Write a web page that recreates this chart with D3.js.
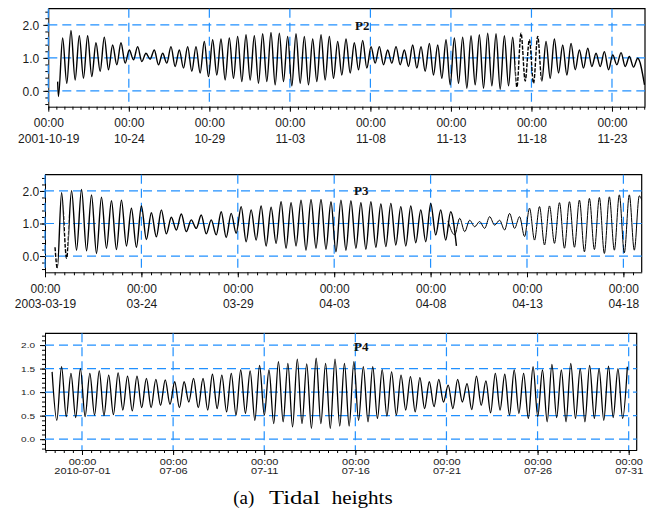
<!DOCTYPE html>
<html><head><meta charset="utf-8">
<script src="https://cdn.jsdelivr.net/npm/d3@7"></script>
<style>body{margin:0;background:#fff}svg{display:block}</style>
</head><body><svg id="c" width="656" height="519"></svg>
<script>
// ---------- DATA ----------
// half of the semi-diurnal (M2, 12.42 h) period, in days: spacing between successive high/low waters
const M2_HALF = 0.25875;

// P2 : 2001-10-19 .. 2001-11-25
const p2Base = "2001-10-19";
const p2XLabels = ["2001-10-19","10-24","10-29","11-03","11-08","11-13","11-18","11-23"];
const p2YTicks = [0, 1, 2];
const p2Lead = [[0.58,0.28],[0.63,-0.17]];          // [day, height]
const p2FirstHigh = 0.89;
const p2High = [1.60,1.83,1.67,1.67,1.46,1.63,1.39,1.46,1.24,1.34,1.14,1.24,1.14,1.34,1.24,1.34,1.34,1.50,1.55,1.57,1.60,1.65,1.70,1.67,1.73,1.77,1.75,1.65,1.73,1.65,1.57,1.70,
                1.65,1.50,1.57,1.46,1.53,1.34,1.34,1.24,1.34,1.24,1.39,1.34,1.44,1.39,1.55,1.60,1.63,1.67,1.70,1.75,1.73,1.67,1.63,1.75,1.55,1.65,1.50,1.57,1.39,1.44,1.24,1.29,1.14,1.19,1.09,1.16,1.04,0.99];
const p2Low = [0.23,0.33,0.38,0.43,0.59,0.64,0.79,0.84,0.94,0.89,0.96,0.79,0.84,0.74,0.69,0.59,0.54,0.43,0.48,0.33,0.38,0.28,0.33,0.23,0.28,0.18,0.28,0.15,0.23,0.18,0.28,
               0.33,0.38,0.48,0.54,0.64,0.69,0.84,0.79,0.84,0.79,0.74,0.69,0.59,0.48,0.38,0.18,0.23,0.08,0.18,0.08,0.15,0.05,0.15,0.11,0.30,0.23,0.30,0.38,0.54,0.48,0.64,0.69,0.74,0.74,0.64,0.79,0.74,0.72];
const p2Tail = [[37.02,0.18]];
const p2Dashed = [[29.0,30.6]];

// P3 : 2003-03-19 .. 2003-04-18
const p3Base = "2003-03-19";
const p3XLabels = ["2003-03-19","03-24","03-29","04-03","04-08","04-13","04-18"];
const p3YTicks = [0, 1, 2];
const p3aLead = [[0.52,0.27],[0.64,-0.38]];
const p3aFirstHigh = 0.86;
const p3aHigh = [1.95,2.01,2.05,1.88,1.81,1.70,1.72,1.47,1.54,1.33,1.42,1.19,1.29,1.11,1.26,1.11,1.36,1.31,1.52,1.42,1.54,1.50,1.67,1.64,1.72,1.74,1.74,
                 1.67,1.72,1.70,1.64,1.67,1.60,1.62,1.52,1.54,1.42,1.62,1.42,1.36];
const p3aLow = [-0.07,0.18,0.16,0.08,0.24,0.20,0.31,0.27,0.51,0.59,0.68,0.80,0.75,0.85,0.68,0.65,0.57,0.70,0.44,0.49,0.31,0.39,0.24,0.31,0.18,0.24,
                0.21,0.13,0.18,0.24,0.21,0.27,0.29,0.34,0.31,0.41,0.44,0.65,0.49];
const p3aTail = [[21.34,0.31]];
const p3aDashed = [[0.45,0.66],[0.98,1.22]];
const p3bLead = [[20.9,1.08],[21.25,0.65]];
const p3bFirstHigh = 21.51;
const p3bHigh = [1.16,1.10,1.06,1.21,1.10,1.31,1.21,1.47,1.52,1.54,1.64,1.67,1.72,1.77,1.80,1.82,1.88,1.88,1.85];
const p3bLow = [0.75,0.90,0.85,0.95,0.80,0.85,0.60,0.49,0.34,0.39,0.24,0.27,0.13,0.20,0.08,0.18,0.10,0.18];
const p3bTail = [[30.97,1.70]];

// P4 : 2010-06-29 .. 2010-07-31 (days counted from 2010-07-01)
const p4Base = "2010-07-01";
const p4XLabels = ["2010-07-01","07-06","07-11","07-16","07-21","07-26","07-31"];
const p4YTicks = [0, 0.5, 1, 1.5, 2];
const p4Lead = [];
const p4FirstHigh = -1.64;
const p4High = [1.43,1.54,1.40,1.50,1.40,1.45,1.36,1.41,1.34,1.34,1.29,1.27,1.26,1.22,1.22,1.29,1.29,1.38,1.36,1.40,1.47,1.45,1.57,1.47,1.65,1.61,1.70,1.60,1.72,
                1.61,1.70,1.61,1.65,1.54,1.54,1.48,1.43,1.36,1.33,1.31,1.22,1.27,1.15,1.27,1.18,1.34,1.24,1.40,1.38,1.47,1.40,1.54,1.47,1.59,1.47,1.61,1.50,1.57,1.50,1.55,1.50,1.54];
const p4Low = [0.40,0.48,0.46,0.48,0.51,0.50,0.52,0.62,0.60,0.67,0.67,0.72,0.74,0.67,0.79,0.67,0.62,0.65,0.58,0.51,0.55,0.40,0.51,0.33,0.37,0.26,0.33,0.23,
               0.33,0.23,0.28,0.28,0.40,0.37,0.44,0.49,0.51,0.62,0.58,0.65,0.69,0.79,0.65,0.79,0.63,0.72,0.56,0.62,0.51,0.55,0.44,0.48,0.37,0.46,0.37,0.44,0.37,0.44,0.40,0.46,0.44];
const p4Tail = [];

const titleWords = ["(a)", "Tidal", "heights"];

// ---------- DRAWING ----------
const DAY = 864e5;
const GRID = "#2090ff";
const SANS = "'Liberation Sans', Arial, sans-serif";
const SERIF = "'Liberation Serif', 'Times New Roman', serif";
const svg = d3.select("#c");
const defs = svg.append("defs");
const parseBase = s => new Date(s + "T00:00:00Z");
const toDate = (base, d) => new Date(base.getTime() + d * DAY);

function buildSeries(base, lead, firstHigh, highs, lows, tail) {
  const pts = lead.map(([d, v]) => ({t: toDate(base, d), v}));
  highs.forEach((h, i) => {
    pts.push({t: toDate(base, firstHigh + 2 * i * M2_HALF), v: h});
    if (i < lows.length) pts.push({t: toDate(base, firstHigh + (2 * i + 1) * M2_HALF), v: lows[i]});
  });
  tail.forEach(([d, v]) => pts.push({t: toDate(base, d), v}));
  return pts;
}

function drawPanel(p) {
  const {l, t, r, b} = p.box;
  const base = parseBase(p.base);
  const x = d3.scaleUtc().domain(p.xDom.map(d => toDate(base, d))).range([l, r]);
  const y = d3.scaleLinear().domain(p.yDom).range([b, t]);
  const g = svg.append("g");

  defs.append("clipPath").attr("id", p.id + "plot")
    .append("rect").attr("x", l).attr("y", t).attr("width", r - l).attr("height", b - t);

  // axes: minor ticks
  g.append("g").attr("transform", `translate(0,${b})`)
    .call(d3.axisBottom(x).tickValues(d3.utcHour.every(12).range(x.domain()[0], toDate(x.domain()[1], 0.001)))
      .tickSize(p.minorTick).tickFormat(""))
    .call(a => a.select(".domain").remove());
  g.append("g").attr("transform", `translate(${l},0)`)
    .call(d3.axisLeft(y).tickValues(y.ticks(p.yMinorCount)).tickSize(p.minorTick).tickFormat(""))
    .call(a => a.select(".domain").remove());

  // axes: major ticks with labels
  const majorX = p.xLabels.map((_, i) => d3.utcDay.offset(base, 5 * i));
  const gx = g.append("g").attr("transform", `translate(0,${b})`)
    .call(d3.axisBottom(x).tickValues(majorX).tickSize(p.majorTick).tickSizeOuter(0).tickFormat(""));
  gx.selectAll(".tick").each(function(d, i) {
    const tk = d3.select(this);
    [["00:00", p.xl1], [p.xLabels[i], p.xl2]].forEach(([txt, dy]) => {
      tk.append("text").attr("transform", `translate(0,${dy}) scale(1,${p.sy})`)
        .attr("text-anchor", "middle").attr("fill", "#1a1a1a")
        .style("font-family", SANS).attr("font-size", p.xFont).text(txt);
    });
  });
  const gy = g.append("g").attr("transform", `translate(${l},0)`)
    .call(d3.axisLeft(y).tickValues(p.yTicks).tickSize(p.majorTick).tickSizeOuter(0).tickFormat(""));
  gy.selectAll(".tick").append("text")
    .attr("transform", `translate(${-p.yPad},0) scale(1,${p.sy})`)
    .attr("dy", "0.36em").attr("text-anchor", "end").attr("fill", "#1a1a1a")
    .style("font-family", SANS).attr("font-size", p.yFont)
    .text(d3.format(".1f"));
  g.selectAll(".domain").attr("stroke", "#000");
  g.selectAll(".tick line").attr("stroke", "#000");

  // frame (top, right)
  g.append("path").attr("d", `M${l},${t}H${r}V${b}`).attr("fill", "none").attr("stroke", "#000").attr("stroke-width", 1.2);

  // grid
  const grid = g.append("g").attr("stroke", GRID).attr("stroke-width", 1.2).attr("stroke-dasharray", "9,5");
  grid.selectAll(".gx").data(majorX).join("line")
    .attr("x1", d => x(d)).attr("x2", d => x(d)).attr("y1", t).attr("y2", b);
  grid.selectAll(".gy").data(p.yTicks).join("line")
    .attr("x1", l).attr("x2", r).attr("y1", d => y(d)).attr("y2", d => y(d));

  // series
  const line = d3.line().x(d => x(d.t)).y(d => y(d.v)).curve(d3.curveMonotoneX);
  p.series.forEach((s, si) => {
    const pts = buildSeries(base, s.lead, s.firstHigh, s.high, s.low, s.tail);
    const dashed = s.dashed || [];
    const cutsS = p.id + "s" + si, cutsD = p.id + "d" + si;
    const solidClip = defs.append("clipPath").attr("id", cutsS);
    const dashClip = defs.append("clipPath").attr("id", cutsD);
    let start = p.xDom[0];
    dashed.forEach(([a, z]) => {
      solidClip.append("rect").attr("x", x(toDate(base, start))).attr("y", t).attr("width", x(toDate(base, a)) - x(toDate(base, start))).attr("height", b - t);
      dashClip.append("rect").attr("x", x(toDate(base, a))).attr("y", t).attr("width", x(toDate(base, z)) - x(toDate(base, a))).attr("height", b - t);
      start = z;
    });
    solidClip.append("rect").attr("x", x(toDate(base, start))).attr("y", t).attr("width", r - x(toDate(base, start))).attr("height", b - t);
    const gp = g.append("g").attr("clip-path", `url(#${p.id}plot)`);
    gp.append("path").datum(pts).attr("d", line).attr("fill", "none").attr("stroke", "#000")
      .attr("stroke-width", s.w).attr("stroke-linejoin", "round").attr("clip-path", `url(#${cutsS})`);
    if (dashed.length)
      gp.append("path").datum(pts).attr("d", line).attr("fill", "none").attr("stroke", "#000")
        .attr("stroke-width", s.w).attr("stroke-dasharray", "4,1.5").attr("clip-path", `url(#${cutsD})`);
  });

  // panel label
  g.append("text").attr("x", p.labelX).attr("y", p.labelY)
    .style("font-family", SERIF).attr("font-weight", "bold")
    .attr("font-size", 13).attr("fill", "#111").text(p.name);
}

drawPanel({
  id: "p2", name: "P2", base: p2Base, xDom: [0, 37.05], box: {l: 48.3, t: 8.7, r: 645, b: 106.7},
  yDom: [-0.48, 2.49], yTicks: p2YTicks, yMinorCount: 15, xLabels: p2XLabels,
  majorTick: 5, minorTick: 3, xl1: 20.5, xl2: 36, xFont: 12, yFont: 12, yPad: 9, sy: 1,
  labelX: 355, labelY: 29.5,
  series: [{lead: p2Lead, firstHigh: p2FirstHigh, high: p2High, low: p2Low, tail: p2Tail, dashed: p2Dashed, w: 1.4}]
});
drawPanel({
  id: "p3", name: "P3", base: p3Base, xDom: [0, 30.95], box: {l: 45, t: 174.7, r: 641.7, b: 272.3},
  yDom: [-0.5, 2.5], yTicks: p3YTicks, yMinorCount: 15, xLabels: p3XLabels,
  majorTick: 5, minorTick: 3, xl1: 20.7, xl2: 35.7, xFont: 12, yFont: 12, yPad: 5.7, sy: 1,
  labelX: 354, labelY: 194.5,
  series: [
    {lead: p3aLead, firstHigh: p3aFirstHigh, high: p3aHigh, low: p3aLow, tail: p3aTail, dashed: p3aDashed, w: 1.4},
    {lead: p3bLead, firstHigh: p3bFirstHigh, high: p3bHigh, low: p3bLow, tail: p3bTail, w: 1.0}
  ]
});
drawPanel({
  id: "p4", name: "P4", base: p4Base, xDom: [-2.03, 30.44], box: {l: 45, t: 333.3, r: 636.7, b: 450},
  yDom: [-0.23, 2.25], yTicks: p4YTicks, yMinorCount: 25, xLabels: p4XLabels,
  majorTick: 5, minorTick: 3, xl1: 15, xl2: 24, xFont: 11, yFont: 10, yPad: 10, sy: 0.75,
  labelX: 354, labelY: 350.5,
  series: [{lead: p4Lead, firstHigh: p4FirstHigh, high: p4High, low: p4Low, tail: p4Tail, w: 1.3}]
});

// caption
const capX = [233.3, 269, 331.7], capW = [21, 51, 61];
titleWords.forEach((w, i) => {
  svg.append("text").attr("transform", `translate(${capX[i]},504) scale(1,0.85)`)
    .style("font-family", SERIF).attr("font-size", 21)
    .attr("textLength", capW[i]).attr("lengthAdjust", "spacingAndGlyphs").attr("fill", "#000").text(w);
});
</script></body></html>
